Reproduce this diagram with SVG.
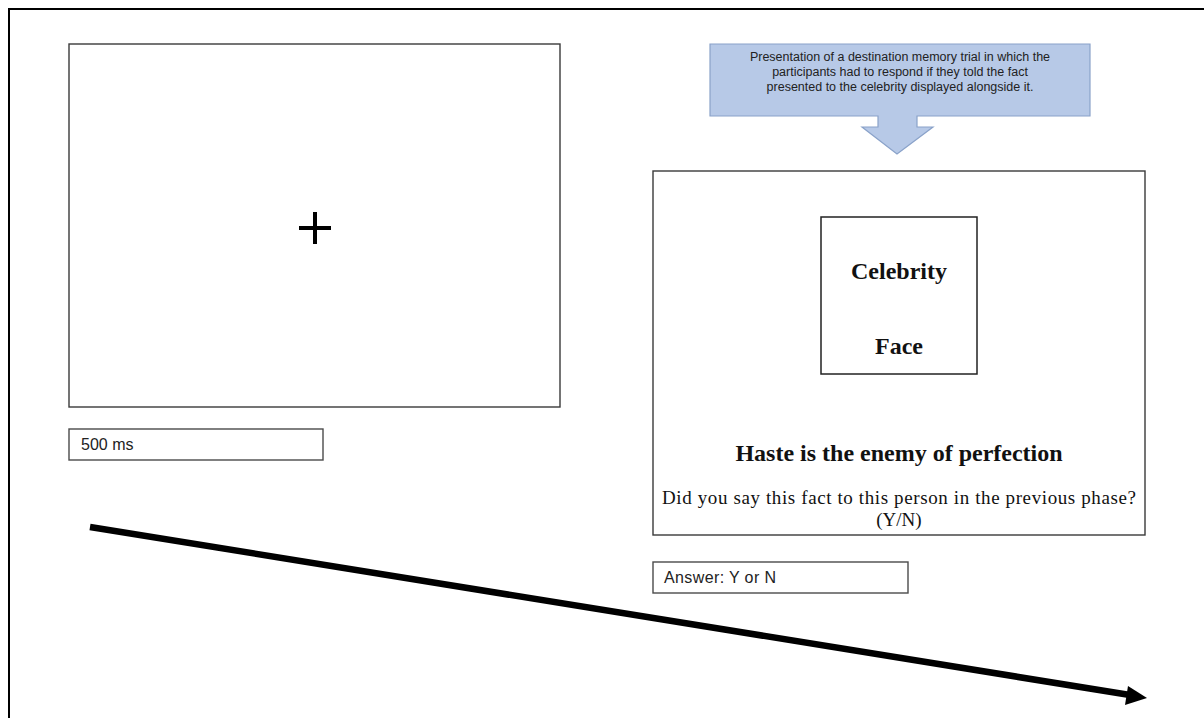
<svg xmlns="http://www.w3.org/2000/svg" width="1204" height="718" viewBox="0 0 1204 718">
  <style>
    .panel { fill: #ffffff; stroke: #3a3a3a; stroke-width: 1.4; }
    .label { fill: #ffffff; stroke: #4a4a4a; stroke-width: 1.4; }
    .sans { font-family: "Liberation Sans", Arial, sans-serif; fill: #222222; }
    .serif { font-family: "Liberation Serif", "Times New Roman", serif; fill: #111111; }
    .callout { fill: #b7c9e7; stroke: #8aa2c9; stroke-width: 1.2; }
  </style>

  <rect x="0" y="0" width="1204" height="718" fill="#ffffff"/>
  <!-- outer frame (left and top edges) -->
  <path d="M9 718 V9 H1204" fill="none" stroke="#000000" stroke-width="2"/>

  <!-- fixation screen -->
  <g id="fixation-screen">
    <rect class="panel" x="69" y="44" width="491" height="363"/>
    <path d="M315 212 V244 M299 228 H331" stroke="#000000" stroke-width="4" fill="none"/>
  </g>

  <g id="fixation-duration">
    <rect class="label" x="69" y="429" width="254" height="31"/>
    <text class="sans" x="81" y="450" font-size="16">500 ms</text>
  </g>

  <!-- explanatory callout -->
  <g id="callout">
    <path class="callout" d="M710 44 H1090 V116 H917 V127 H933 L897 154 L862 127 H878 V116 H710 Z"/>
    <text class="sans" x="900" y="61" font-size="12.5" text-anchor="middle" fill="#333333">Presentation of a destination memory trial in which the</text>
    <text class="sans" x="900" y="76" font-size="12.5" text-anchor="middle" fill="#333333">participants had to respond if they told the fact</text>
    <text class="sans" x="900" y="91" font-size="12.5" text-anchor="middle" fill="#333333">presented to the celebrity displayed alongside it.</text>
  </g>

  <!-- test screen -->
  <g id="test-screen">
    <rect class="panel" x="653" y="171" width="492" height="364"/>
    <rect x="821" y="217" width="156" height="157" fill="#ffffff" stroke="#222222" stroke-width="1.5"/>
    <text class="serif" x="899" y="279" font-size="24" font-weight="bold" text-anchor="middle">Celebrity</text>
    <text class="serif" x="899" y="354" font-size="24" font-weight="bold" text-anchor="middle">Face</text>
    <text class="serif" x="899" y="461" font-size="24" font-weight="bold" text-anchor="middle">Haste is the enemy of perfection</text>
    <text class="serif" x="899" y="504" font-size="19" text-anchor="middle" textLength="474" lengthAdjust="spacing">Did you say this fact to this person in the previous phase?</text>
    <text class="serif" x="899" y="526" font-size="19" text-anchor="middle">(Y/N)</text>
  </g>

  <g id="answer-label">
    <rect class="label" x="653" y="562" width="255" height="31"/>
    <text class="sans" x="664" y="583" font-size="16" textLength="112" lengthAdjust="spacing">Answer: Y or N</text>
  </g>

  <!-- time axis -->
  <g id="connectors">
    <line x1="90" y1="527" x2="1130" y2="695" stroke="#000000" stroke-width="6.5"/>
    <polygon points="1147,698 1125,705 1128,686" fill="#000000"/>
  </g>
</svg>
